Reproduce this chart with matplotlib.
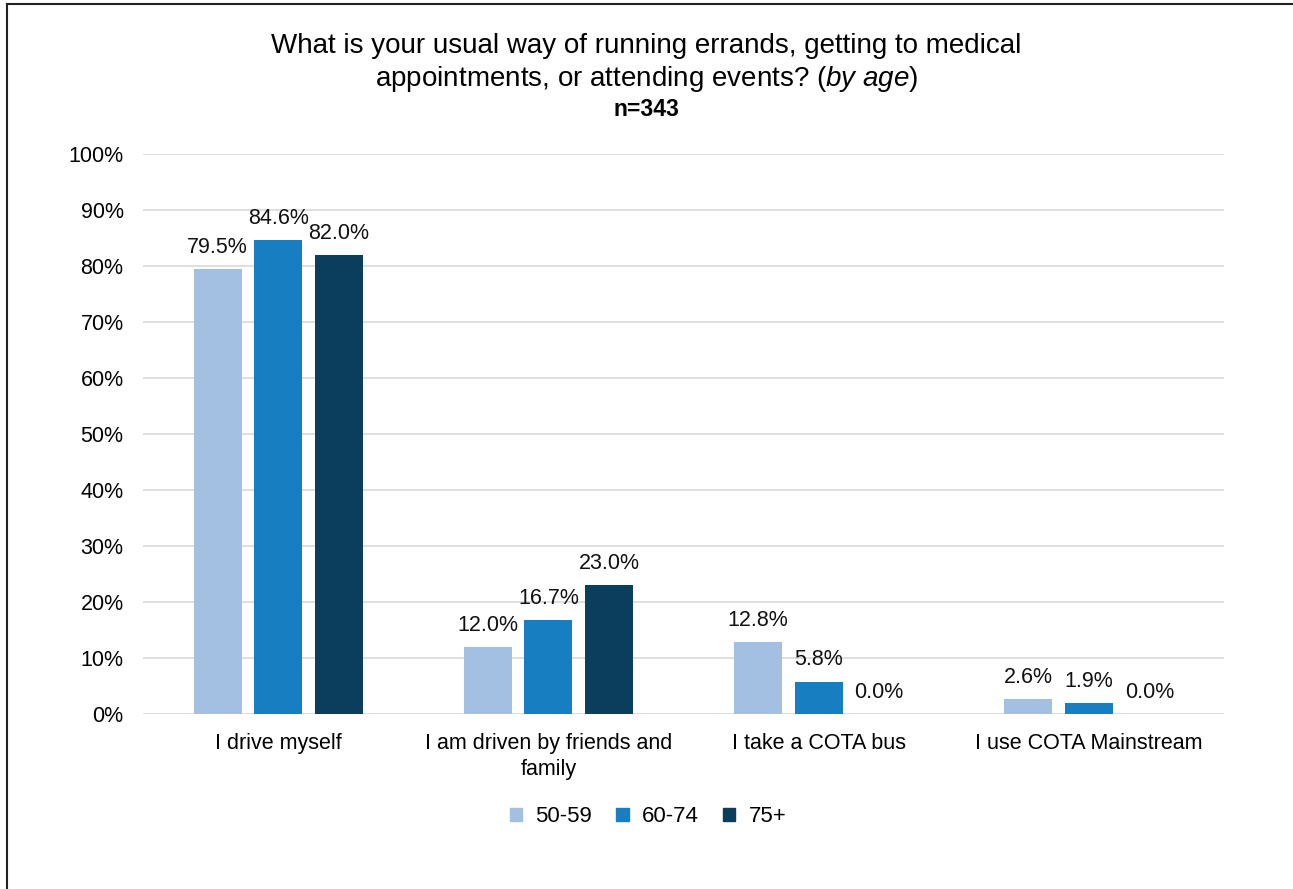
import matplotlib
matplotlib.use("Agg")
import matplotlib.pyplot as plt
import numpy as np
from matplotlib.lines import Line2D

categories = ["I drive myself", "I am driven by friends and\nfamily", "I take a COTA bus", "I use COTA Mainstream"]
series_names = ["50-59", "60-74", "75+"]
v_5059 = [79.5, 12.0, 12.8, 2.6]
v_6074 = [84.6, 16.7, 5.8, 1.9]
v_75 = [82.0, 23.0, 0.0, 0.0]
colors = ["#A3BFE1", "#177EC2", "#0B3D5C"]
yticks = [0, 10, 20, 30, 40, 50, 60, 70, 80, 90, 100]

plt.rcParams['font.family'] = ['Liberation Sans', 'DejaVu Sans']
plt.rcParams['mathtext.fontset'] = 'custom'
plt.rcParams['mathtext.it'] = 'Liberation Sans:italic'
plt.rcParams['mathtext.rm'] = 'Liberation Sans'

fig = plt.figure(figsize=(12.93, 8.89), dpi=100)
ax = fig.add_axes([143/1293, 1 - 714/889, (1224-143)/1293, (714-154)/889])

x = np.arange(len(categories))
bw = 48/270
step = 60.5/270
for i, (vals, c) in enumerate(zip([v_5059, v_6074, v_75], colors)):
    pos = x + (i - 1) * step
    ax.bar(pos, vals, width=bw, color=c, label=series_names[i], zorder=3)
    for p, v in zip(pos, vals):
        ax.text(p, v + 2.0, f"{v:.1f}%", ha='center', va='bottom', fontsize=15.5, color='#111111')

ax.set_xlim(-0.5, len(categories) - 0.5)
ax.set_ylim(0, 100)
ax.set_yticks(yticks)
ax.set_yticklabels([f"{t}%" for t in yticks], fontsize=15.5)
ax.set_xticks(x)
ax.set_xticklabels(categories, fontsize=15.5, linespacing=1.3)
ax.tick_params(axis='both', length=0)
ax.tick_params(axis='y', pad=14)
ax.tick_params(axis='x', pad=14)
ax.grid(axis='y', color='#D9D9D9', linewidth=1.2, zorder=0)
for s in ax.spines.values():
    s.set_visible(False)

fig.text(0.5, 1 - 46/889, "What is your usual way of running errands, getting to medical",
         ha='center', va='center', fontsize=20)
fig.text(0.5, 1 - 79/889, "appointments, or attending events? ($\\it{by\\ age}$)",
         ha='center', va='center', fontsize=20)
fig.text(0.5, 1 - 109/889, "n=343", ha='center', va='center', fontsize=16.5, fontweight='bold')

handles = [plt.Rectangle((0, 0), 1, 1, color=c) for c in colors]
fig.legend(handles, series_names, loc='center', bbox_to_anchor=(648/1293, 1 - 817/889),
           ncol=3, frameon=False, fontsize=16, handlelength=0.55, handleheight=0.55,
           columnspacing=1.1, handletextpad=0.6)

# border lines (left and top)
fig.add_artist(Line2D([7/1293, 7/1293], [0, 1 - 4/889], transform=fig.transFigure, color='#222222', linewidth=1.5))
fig.add_artist(Line2D([7/1293, 1], [1 - 4/889, 1 - 4/889], transform=fig.transFigure, color='#222222', linewidth=1.5))

fig.savefig("out.png", dpi=100, facecolor='white')
